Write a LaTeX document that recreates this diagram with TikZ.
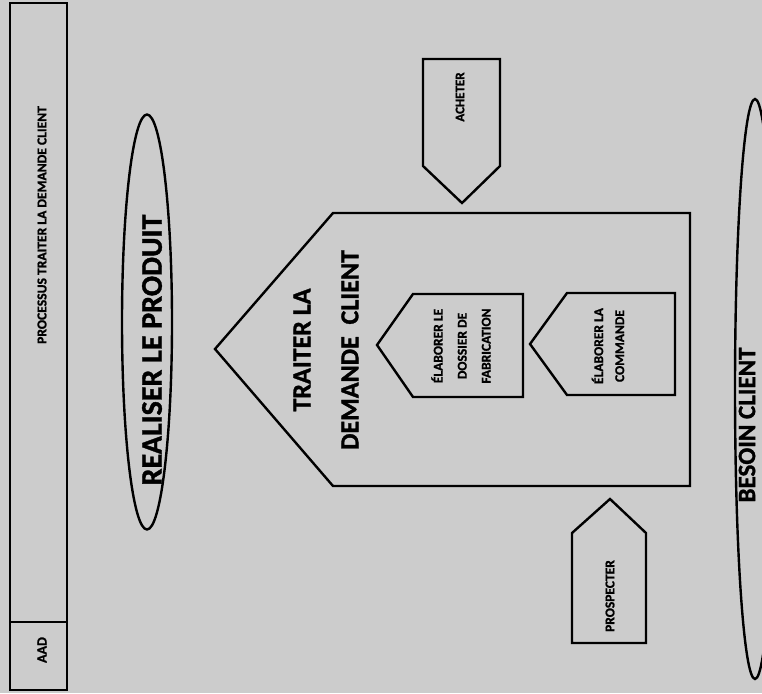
\documentclass[tikz,border=0pt]{standalone}
\usepackage{fontspec}
\setmainfont{Carlito}[BoldFeatures={FakeBold=1.2}]
\usetikzlibrary{shapes.geometric}
\newcommand{\fs}[2]{\fontsize{#1}{#2}\selectfont}
\begin{document}
\begin{tikzpicture}[x=1pt,y=-1pt,
  outline/.style={draw=black,line width=2.4pt,line join=miter},
  oval/.style={ellipse,outline,inner sep=0pt},
  lbl/.style={rotate=90,inner sep=0pt,align=center,text=black},
]
% paper
\fill[black!20] (0,0) rectangle (762,693);
\useasboundingbox (0,0) rectangle (762,693);

% title band on the left
\draw[outline] (10,3) rectangle (67,690);
\draw[outline] (10,622) -- (67,622);
\node[lbl,font=\bfseries\fs{13.6}{15}] (title) at (42,225) {PROCESSUS TRAITER LA DEMANDE CLIENT};
\node[lbl,font=\bfseries\fs{14}{16}] (aad) at (42,650) {AAD};

% output: realise the product
\node[oval,minimum width=50pt,minimum height=415pt] (realiser) at (147,322) {};
\node[lbl,font=\bfseries\fs{30}{36}] (realisertxt) at (152,350) {REALISER LE PRODUIT};

% main process
\draw[outline] (215,349) -- (333,213) -- (690,213) -- (690,486) -- (333,486) -- cycle;
\node[lbl,font=\bfseries\fs{26}{48}] (traiter) at (326,350) {TRAITER LA\\DEMANDE\ \ CLIENT};

% sub-process: production file
\draw[outline] (377,345) -- (413,294) -- (523,294) -- (523,397) -- (413,397) -- cycle;
\node[lbl,font=\bfseries\fs{13.5}{24}] (dossier) at (461,346) {ÉLABORER LE\\DOSSIER DE\\FABRICATION};

% sub-process: order
\draw[outline] (530,344) -- (567,293) -- (675,293) -- (675,395) -- (567,395) -- cycle;
\node[lbl,font=\bfseries\fs{13.5}{21}] (commande) at (608,346) {ÉLABORER LA\\COMMANDE};

% support process: purchasing
\draw[outline] (423,59) -- (500,59) -- (500,166) -- (462,203) -- (423,166) -- cycle;
\node[lbl,font=\bfseries\fs{13}{15}] (acheter) at (460,97) {ACHETER};

% support process: prospecting
\draw[outline] (610,499) -- (646,533) -- (646,643) -- (572,643) -- (572,533) -- cycle;
\node[lbl,font=\bfseries\fs{13.5}{15}] (prospecter) at (610,596) {PROSPECTER};

% input: customer need
\node[oval,minimum width=40pt,minimum height=580pt] (besoin) at (755,389) {};
\node[lbl,font=\bfseries\fs{25}{30}] (besointxt) at (747,425) {BESOIN CLIENT};
\end{tikzpicture}
\end{document}
